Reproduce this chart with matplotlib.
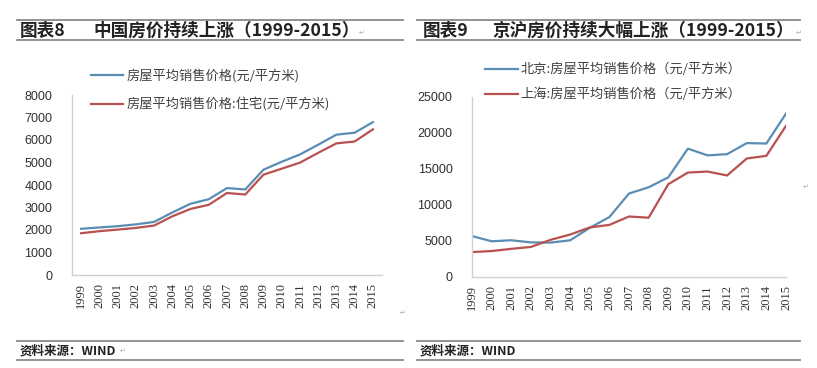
import matplotlib
matplotlib.use("Agg")
import matplotlib.pyplot as plt
from matplotlib.lines import Line2D

plt.rcParams['font.family'] = ['Noto Sans CJK SC', 'DejaVu Sans']

years = [str(y) for y in range(1999, 2016)]

# Chart 8: national average selling price (yuan / m2)
china_all = [2053, 2112, 2170, 2250, 2359, 2778, 3168, 3367, 3864, 3800,
             4681, 5032, 5357, 5791, 6237, 6324, 6793]
china_res = [1857, 1948, 2017, 2092, 2197, 2608, 2937, 3119, 3645, 3576,
             4459, 4725, 4993, 5430, 5850, 5933, 6473]

# Chart 9: Beijing / Shanghai average selling price (yuan / m2)
beijing = [5647, 4919, 5062, 4764, 4737, 5053, 6788, 8280, 11553, 12418,
           13799, 17782, 16852, 17022, 18553, 18499, 22650]
shanghai = [3422, 3565, 3866, 4134, 5118, 5855, 6842, 7196, 8361, 8195,
            12840, 14464, 14603, 14061, 16420, 16787, 20950]

W, H = 817, 368
fig = plt.figure(figsize=(W / 100, H / 100), dpi=100)
fig.patch.set_facecolor('white')


def fx(x):
    return x / W


def fy(y):
    return 1 - y / H


def hline(x0, x1, y, color='#8a8a8a', lw=1.3):
    fig.add_artist(Line2D([fx(x0), fx(x1)], [fy(y), fy(y)], color=color, lw=lw,
                          transform=fig.transFigure))


BLUE = '#5a8db3'
RED = '#b8514f'
AXC = '#d0d0d0'
TXT = '#303030'

# ---- header/footer rules and text ----
for (x0, x1) in [(17, 403), (417, 800)]:
    hline(x0, x1, 20)
    hline(x0, x1, 40)
    hline(x0, x1, 341)
    hline(x0, x1, 360)

title_kw = dict(fontsize=12.7, fontweight='bold', color='#222222', va='center', ha='left')
fig.text(fx(20), fy(31), '图表8', **title_kw)
fig.text(fx(93), fy(31), '中国房价持续上涨（1999-2015）', **title_kw)
fig.text(fx(423), fy(31), '图表9', **title_kw)
fig.text(fx(492), fy(31), '京沪房价持续大幅上涨（1999-2015）', **title_kw)

src_kw = dict(fontsize=9, fontweight='bold', style='italic', color='#222222', va='center', ha='left')
fig.text(fx(20), fy(351), '资料来源：WIND', **src_kw)
fig.text(fx(420), fy(351), '资料来源：WIND', **src_kw)

mark_kw = dict(fontsize=5, color='#aaaaaa', va='center', ha='left', family=['DejaVu Sans'])
fig.text(fx(359), fy(33), '↵', **mark_kw)
fig.text(fx(796), fy(33), '↵', **mark_kw)
fig.text(fx(400), fy(313), '↵', **mark_kw)
fig.text(fx(803), fy(187), '↵', **mark_kw)
fig.text(fx(120), fy(351), '↵', **mark_kw)

# ---- left chart ----
ax1 = fig.add_axes([fx(72), fy(275), fx(382) - fx(72), fy(95) - fy(275)])
x = list(range(len(years)))
ax1.plot(x, china_all, color=BLUE, lw=1.6, label='房屋平均销售价格(元/平方米)')
ax1.plot(x, china_res, color=RED, lw=1.6, label='房屋平均销售价格:住宅(元/平方米)')
ax1.set_xlim(-0.5, len(years) - 0.5)
ax1.set_ylim(0, 8000)
ax1.set_yticks(range(0, 8001, 1000))
ax1.set_yticklabels([str(v) for v in range(0, 8001, 1000)])

# ---- right chart ----
ax2 = fig.add_axes([fx(472), fy(276.7), fx(786) - fx(472), fy(96.7) - fy(276.7)])
ax2.plot(x, beijing, color=BLUE, lw=1.6, label='北京:房屋平均销售价格（元/平方米）')
ax2.plot(x, shanghai, color=RED, lw=1.6, label='上海:房屋平均销售价格（元/平方米）')
ax2.set_xlim(0, len(years) - 1)
ax2.set_ylim(0, 25000)
ax2.set_yticks(range(0, 25001, 5000))
ax2.set_yticklabels([str(v) for v in range(0, 25001, 5000)])

for ax in (ax1, ax2):
    ax.set_xticks(x)
    ax.set_xticklabels(years, rotation=90, family=['Liberation Serif'], fontsize=9, color=TXT)
    for lab in ax.get_yticklabels():
        lab.set_family(['Liberation Sans'])
        lab.set_fontsize(9)
        lab.set_color(TXT)
    ax.tick_params(axis='both', length=0)
    ax.tick_params(axis='y', pad=14)
    ax.tick_params(axis='x', pad=6)
    for s in ('top', 'right'):
        ax.spines[s].set_visible(False)
    for s in ('left', 'bottom'):
        ax.spines[s].set_color(AXC)
        ax.spines[s].set_linewidth(1.0)
    ax.set_facecolor('white')

leg1 = ax1.legend(loc='upper left', bbox_to_anchor=(fx(91), fy(69)),
                  bbox_transform=fig.transFigure, frameon=False, fontsize=9.5,
                  handlelength=2.4, handletextpad=0.3, labelspacing=1.15,
                  borderpad=0, borderaxespad=0)
leg2 = ax2.legend(loc='upper left', bbox_to_anchor=(fx(485), fy(63)),
                  bbox_transform=fig.transFigure, frameon=False, fontsize=9.5,
                  handlelength=2.5, handletextpad=0.2, labelspacing=0.88,
                  borderpad=0, borderaxespad=0)
for leg in (leg1, leg2):
    for t in leg.get_texts():
        t.set_color('#404040')

fig.savefig('out.png', dpi=100, facecolor='white')
